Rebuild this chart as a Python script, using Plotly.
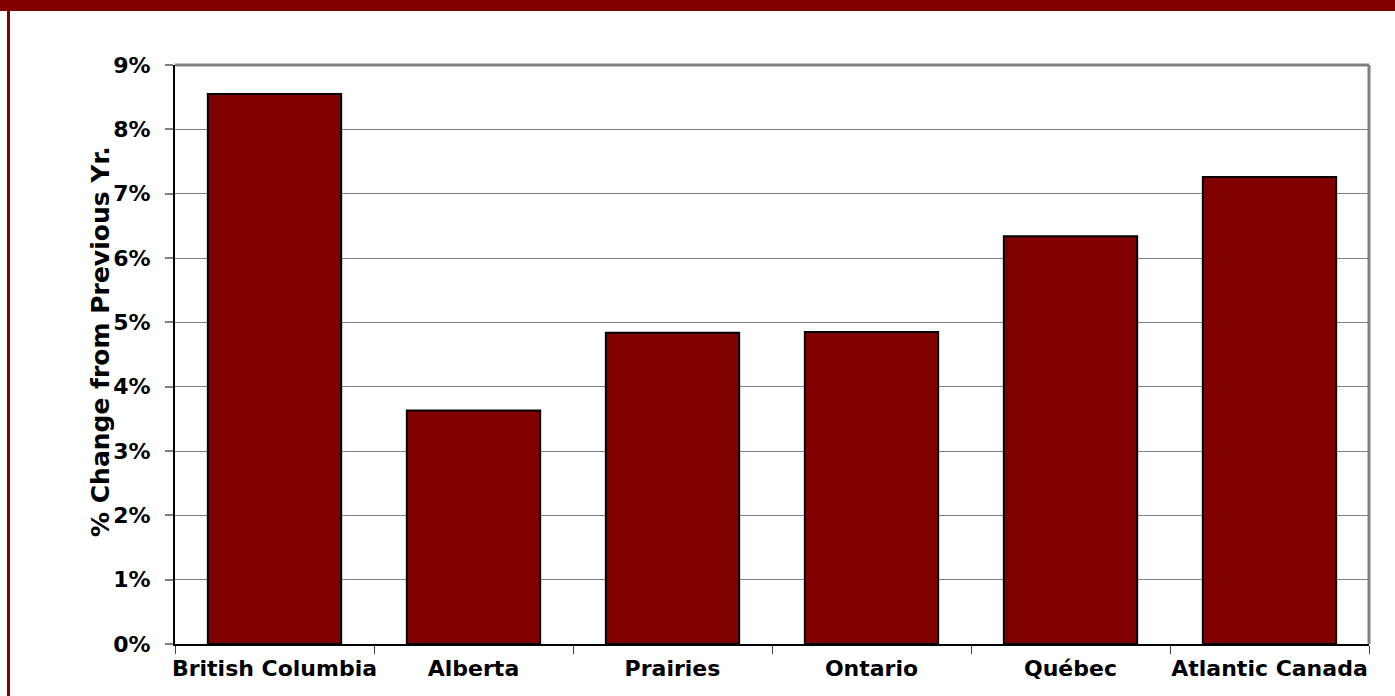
import plotly.graph_objects as go

categories = ["British Columbia", "Alberta", "Prairies", "Ontario", "Québec", "Atlantic Canada"]
values = [8.55, 3.63, 4.84, 4.85, 6.34, 7.26]
y_ticks = [0, 1, 2, 3, 4, 5, 6, 7, 8, 9]
y_tick_labels = [f"{v}%" for v in y_ticks]
y_title = "% Change from Previous Yr."

W, H = 1395, 696
ML, MR, MT, MB = 175, 26, 65, 52
pw = W - ML - MR
ph = H - MT - MB

def px_x(p):
    return (p - ML) / pw

def px_y(p):
    return (H - MB - p) / ph

RED = "#800000"
FONT = "DejaVu Sans"

fig = go.Figure()
fig.add_trace(go.Bar(
    x=categories, y=values,
    marker=dict(color=RED, line=dict(color="black", width=2)),
    width=0.67,
))

fig.update_layout(
    width=W, height=H, autosize=False,
    margin=dict(l=ML, r=MR, t=MT, b=MB, autoexpand=False),
    paper_bgcolor="white", plot_bgcolor="white",
    showlegend=False,
    font=dict(family=FONT, color="black"),
    bargap=0.33,
)
fig.update_xaxes(
    showline=True, linecolor="black", linewidth=2,
    ticks="outside", tickson="boundaries", ticklen=8, tickcolor="#404040", tickwidth=1,
    tickfont=dict(family=FONT, size=22, color="black", weight="bold"),
    tickangle=0, automargin=False, ticklabelstandoff=4,
    showgrid=False, range=[-0.5, 5.5],
)
fig.update_yaxes(
    range=[0, 9], tickvals=y_ticks, ticktext=y_tick_labels,
    showline=True, linecolor="black", linewidth=2,
    ticks="outside", ticklen=8, tickcolor="#808080", tickwidth=1.5,
    tickfont=dict(family=FONT, size=22, color="black", weight="bold"),
    showgrid=True, gridcolor="#808080", gridwidth=1,
    ticklabelstandoff=10, automargin=False,
    zeroline=False,
)

fig.add_annotation(
    text=y_title, textangle=-90, xref="paper", yref="paper",
    x=px_x(100), y=px_y(342), xanchor="center", yanchor="middle", showarrow=False,
    font=dict(family=FONT, size=25, color="black", weight="bold"),
)

shapes = [
    dict(type="line", xref="paper", yref="paper", x0=0, x1=1, y0=1, y1=1, line=dict(color="#808080", width=3)),
    dict(type="line", xref="paper", yref="paper", x0=1, x1=1, y0=0, y1=1, line=dict(color="#808080", width=3)),
    dict(type="rect", xref="paper", yref="paper", x0=px_x(0), x1=px_x(W), y0=px_y(11), y1=px_y(0),
         fillcolor=RED, line=dict(width=0), layer="above"),
    dict(type="rect", xref="paper", yref="paper", x0=px_x(7), x1=px_x(10), y0=px_y(H), y1=px_y(0),
         fillcolor=RED, line=dict(width=0), layer="above"),
]
fig.update_layout(shapes=shapes)

fig.write_html("out.html", config={"displayModeBar": False},
               post_script="document.body.style.margin='0px';")
